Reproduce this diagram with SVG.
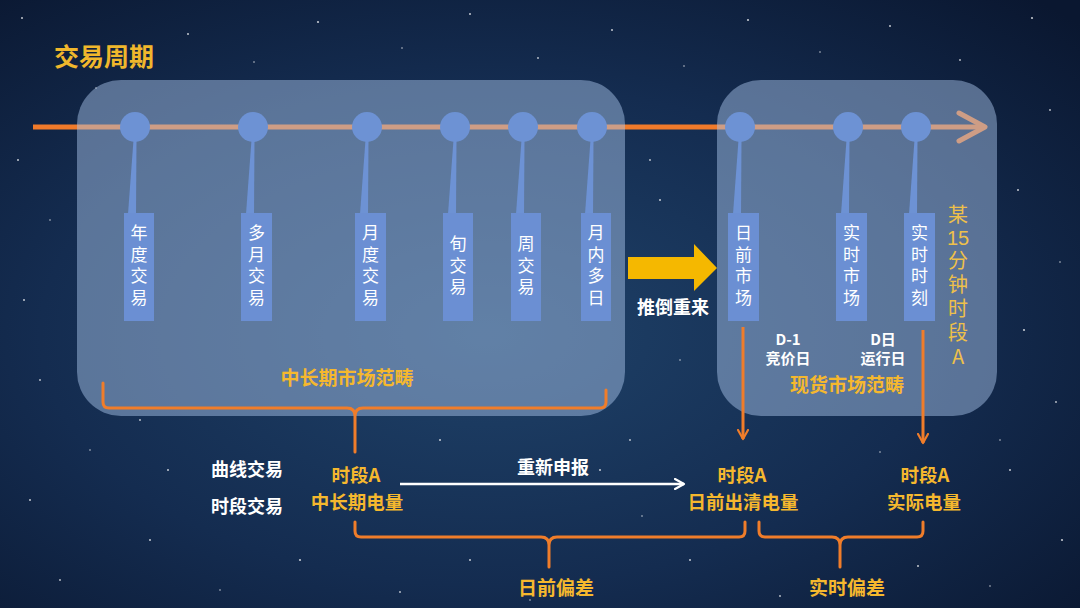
<svg xmlns="http://www.w3.org/2000/svg" width="1080" height="608" viewBox="0 0 1080 608">
  <defs>
    <radialGradient id="bg" cx="0.45" cy="0.55" r="0.75">
      <stop offset="0" stop-color="#1f4269"/>
      <stop offset="0.55" stop-color="#142c50"/>
      <stop offset="1" stop-color="#0a1730"/>
    </radialGradient>
    <marker id="ah-orange" viewBox="0 0 12 12" refX="10" refY="6" markerWidth="12" markerHeight="12" markerUnits="userSpaceOnUse" orient="auto">
      <path d="M1,1 L10,6 L1,11" fill="none" stroke="#f07d2a" stroke-width="2.2" stroke-linecap="round" stroke-linejoin="round"/>
    </marker>
    <marker id="ah-white" viewBox="0 0 12 12" refX="10" refY="6" markerWidth="12" markerHeight="12" markerUnits="userSpaceOnUse" orient="auto">
      <path d="M1,1 L10,6 L1,11" fill="none" stroke="#ffffff" stroke-width="2.2" stroke-linecap="round" stroke-linejoin="round"/>
    </marker>
    <style>
      text { font-family: "Noto Sans CJK SC", "Noto Sans", sans-serif; text-anchor: middle; dominant-baseline: central; }
      .vt { writing-mode: vertical-rl; text-orientation: upright; dominant-baseline: auto; }
      .panel { fill: #a9c4ea; fill-opacity: 0.48; }
      .dot { fill: #6d92d4; }
      .stem { fill: #6d92d4; }
      .box { fill: #6b8fd3; }
      .boxtxt { fill: #ffffff; font-size: 17px; letter-spacing: 4.7px; }
      .yl { fill: #f5b82e; font-size: 19px; font-weight: bold; }
      .y2 { fill: #f5b82e; font-size: 18.5px; font-weight: bold; }
      .wt { fill: #ffffff; font-size: 18px; font-weight: bold; }
      .sm { fill: #ffffff; font-size: 15px; font-weight: bold; }
      .v15 { fill: #eec04a; font-size: 20px; }
      .brace { fill: none; stroke: #f07d2a; stroke-width: 3; stroke-linecap: round; stroke-linejoin: round; }
      .star { fill: #ffffff; }
    </style>
  </defs>

  <!-- background -->
  <rect x="0" y="0" width="1080" height="608" fill="url(#bg)"/>
  <g id="stars" class="star" fill-opacity="0.75">
    <circle cx="22" cy="18" r="1"/><circle cx="96" cy="88" r="0.8"/><circle cx="188" cy="34" r="1"/>
    <circle cx="254" cy="62" r="0.8"/><circle cx="318" cy="22" r="1.1"/><circle cx="402" cy="48" r="0.8"/>
    <circle cx="470" cy="14" r="1"/><circle cx="538" cy="58" r="0.9"/><circle cx="612" cy="30" r="1"/>
    <circle cx="684" cy="66" r="0.8"/><circle cx="748" cy="20" r="1.1"/><circle cx="820" cy="52" r="0.8"/>
    <circle cx="890" cy="26" r="1"/><circle cx="960" cy="60" r="0.9"/><circle cx="1032" cy="18" r="1.1"/>
    <circle cx="1050" cy="110" r="0.9"/><circle cx="1018" cy="190" r="1"/><circle cx="1060" cy="262" r="0.8"/>
    <circle cx="1024" cy="330" r="1.1"/><circle cx="1056" cy="402" r="0.9"/><circle cx="1010" cy="470" r="1"/>
    <circle cx="1062" cy="540" r="1.1"/><circle cx="990" cy="586" r="0.8"/><circle cx="918" cy="566" r="1"/>
    <circle cx="780" cy="596" r="0.9"/><circle cx="690" cy="560" r="1"/><circle cx="642" cy="516" r="0.8"/>
    <circle cx="470" cy="560" r="1"/><circle cx="400" cy="592" r="0.9"/><circle cx="300" cy="560" r="1.1"/>
    <circle cx="220" cy="590" r="0.8"/><circle cx="150" cy="540" r="1"/><circle cx="60" cy="580" r="0.9"/>
    <circle cx="30" cy="500" r="1"/><circle cx="90" cy="450" r="0.8"/><circle cx="168" cy="470" r="1"/>
    <circle cx="40" cy="380" r="0.9"/><circle cx="24" cy="300" r="1"/><circle cx="50" cy="220" r="0.8"/>
    <circle cx="18" cy="160" r="1"/><circle cx="440" cy="440" r="1"/><circle cx="630" cy="440" r="0.9"/>
    <circle cx="660" cy="200" r="1"/><circle cx="680" cy="360" r="0.8"/><circle cx="650" cy="160" r="0.9"/>
    <circle cx="600" cy="470" r="1"/><circle cx="1000" cy="440" r="0.8"/><circle cx="530" cy="600" r="0.8"/>
    <circle cx="140" cy="420" r="0.9"/><circle cx="880" cy="452" r="0.8"/>
  </g>

  <!-- title -->
  <text x="104" y="55" fill="#f0b72c" font-size="25" font-weight="bold">交易周期</text>

  <!-- timeline (under panels) -->
  <g id="connectors">
    <line x1="33" y1="127" x2="984" y2="127" stroke="#f07a2a" stroke-width="5"/>
    <path d="M959,113 L985,127 L959,141" fill="none" stroke="#f07a2a" stroke-width="5" stroke-linecap="round" stroke-linejoin="round"/>
  </g>

  <!-- panels -->
  <g id="panel-midlong">
    <rect class="panel" x="77" y="80" width="548" height="336" rx="44"/>
  </g>
  <g id="panel-spot">
    <rect class="panel" x="717" y="80" width="280" height="336" rx="44"/>
  </g>

  <!-- nodes -->
  <g id="node-nianduo">
    <circle class="dot" cx="135" cy="127" r="15"/>
    <polygon class="stem" points="133.5,140 136.5,140 136,214 128,214"/>
    <rect class="box" x="124" y="213" width="30" height="108"/>
    <text class="boxtxt vt" x="139" y="267.5">年度交易</text>
  </g>
  <g id="node-duoyue">
    <circle class="dot" cx="253" cy="127" r="15"/>
    <polygon class="stem" points="251.5,140 254.5,140 254,214 246,214"/>
    <rect class="box" x="241" y="213" width="31" height="108"/>
    <text class="boxtxt vt" x="256.5" y="267.5">多月交易</text>
  </g>
  <g id="node-yuedu">
    <circle class="dot" cx="367" cy="127" r="15"/>
    <polygon class="stem" points="365.5,140 368.5,140 368,214 360,214"/>
    <rect class="box" x="355" y="213" width="31" height="108"/>
    <text class="boxtxt vt" x="370.5" y="267.5">月度交易</text>
  </g>
  <g id="node-xun">
    <circle class="dot" cx="455" cy="127" r="15"/>
    <polygon class="stem" points="453.5,140 456.5,140 456,214 448,214"/>
    <rect class="box" x="443" y="213" width="30" height="108"/>
    <text class="boxtxt vt" x="458" y="267.5">旬交易</text>
  </g>
  <g id="node-zhou">
    <circle class="dot" cx="523" cy="127" r="15"/>
    <polygon class="stem" points="521.5,140 524.5,140 524,214 516,214"/>
    <rect class="box" x="511" y="213" width="30" height="108"/>
    <text class="boxtxt vt" x="526" y="267.5">周交易</text>
  </g>
  <g id="node-yuenei">
    <circle class="dot" cx="592" cy="127" r="15"/>
    <polygon class="stem" points="590.5,140 593.5,140 593,214 585,214"/>
    <rect class="box" x="581" y="213" width="30" height="108"/>
    <text class="boxtxt vt" x="596" y="267.5">月内多日</text>
  </g>
  <g id="node-riqian">
    <circle class="dot" cx="740" cy="127" r="15"/>
    <polygon class="stem" points="738.5,140 741.5,140 741,214 733,214"/>
    <rect class="box" x="728" y="213" width="31" height="108"/>
    <text class="boxtxt vt" x="743.5" y="267.5">日前市场</text>
  </g>
  <g id="node-shishi">
    <circle class="dot" cx="848" cy="127" r="15"/>
    <polygon class="stem" points="846.5,140 849.5,140 849,214 841,214"/>
    <rect class="box" x="836" y="213" width="31" height="108"/>
    <text class="boxtxt vt" x="851.5" y="267.5">实时市场</text>
  </g>
  <g id="node-shike">
    <circle class="dot" cx="916" cy="127" r="15"/>
    <polygon class="stem" points="914.5,140 917.5,140 917,214 909,214"/>
    <rect class="box" x="904" y="213" width="31" height="108"/>
    <text class="boxtxt vt" x="919.5" y="267.5">实时时刻</text>
  </g>

  <!-- vertical label -->
  <g id="label-15min">
    <text class="v15 vt" x="958" y="214">某</text>
    <text class="v15" x="958" y="238" style="font-family:'Liberation Sans',sans-serif">15</text>
    <text class="v15 vt" x="958" y="310" letter-spacing="4">分钟时段A</text>
  </g>

  <!-- restart arrow -->
  <g id="restart">
    <polygon points="628,257 694,257 694,244 717,268 694,291 694,279 628,279" fill="#f5b800"/>
    <text class="wt" x="673" y="306" font-size="19">推倒重来</text>
  </g>

  <!-- panel labels -->
  <g id="labels">
    <text class="yl" x="347" y="376">中长期市场范畴</text>
    <text class="yl" x="847" y="383">现货市场范畴</text>
    <text class="sm" x="788" y="338">D-1</text>
    <text class="sm" x="788" y="357">竞价日</text>
    <text class="sm" x="883" y="338">D日</text>
    <text class="sm" x="883" y="357">运行日</text>
  </g>

  <!-- braces and arrows -->
  <g id="connectors-2">
    <path class="brace" d="M103,383 L103,402 Q103,408 109,408 L347,408 Q355,408 355,416 L355,452 M355,416 Q355,408 363,408 L600,408 Q606,408 606,402 L606,390"/>
    <path class="brace" d="M355,522 L355,531 Q355,537 361,537 L541,537 Q549,537 549,545 L549,567 M549,545 Q549,537 557,537 L739,537 Q745,537 745,531 L745,522"/>
    <path class="brace" d="M759,522 L759,531 Q759,537 765,537 L832,537 Q840,537 840,545 L840,567 M840,545 Q840,537 848,537 L917,537 Q923,537 923,531 L923,522"/>
    <line x1="743" y1="327" x2="743" y2="439" stroke="#f07d2a" stroke-width="3" marker-end="url(#ah-orange)"/>
    <line x1="923" y1="330" x2="923" y2="443" stroke="#f07d2a" stroke-width="3" marker-end="url(#ah-orange)"/>
    <line x1="400" y1="484" x2="684" y2="484" stroke="#ffffff" stroke-width="2.5" marker-end="url(#ah-white)"/>
  </g>

  <!-- bottom texts -->
  <g id="bottom-labels">
    <text class="wt" x="247" y="468">曲线交易</text>
    <text class="wt" x="247" y="505">时段交易</text>
    <text class="wt" x="553" y="466">重新申报</text>
    <text class="y2" x="356" y="474">时段A</text>
    <text class="y2" x="357" y="501">中长期电量</text>
    <text class="y2" x="742" y="474">时段A</text>
    <text class="y2" x="743" y="501">日前出清电量</text>
    <text class="y2" x="925" y="474">时段A</text>
    <text class="y2" x="924" y="501">实际电量</text>
    <text class="yl" x="556" y="586">日前偏差</text>
    <text class="yl" x="847" y="586">实时偏差</text>
  </g>
</svg>
